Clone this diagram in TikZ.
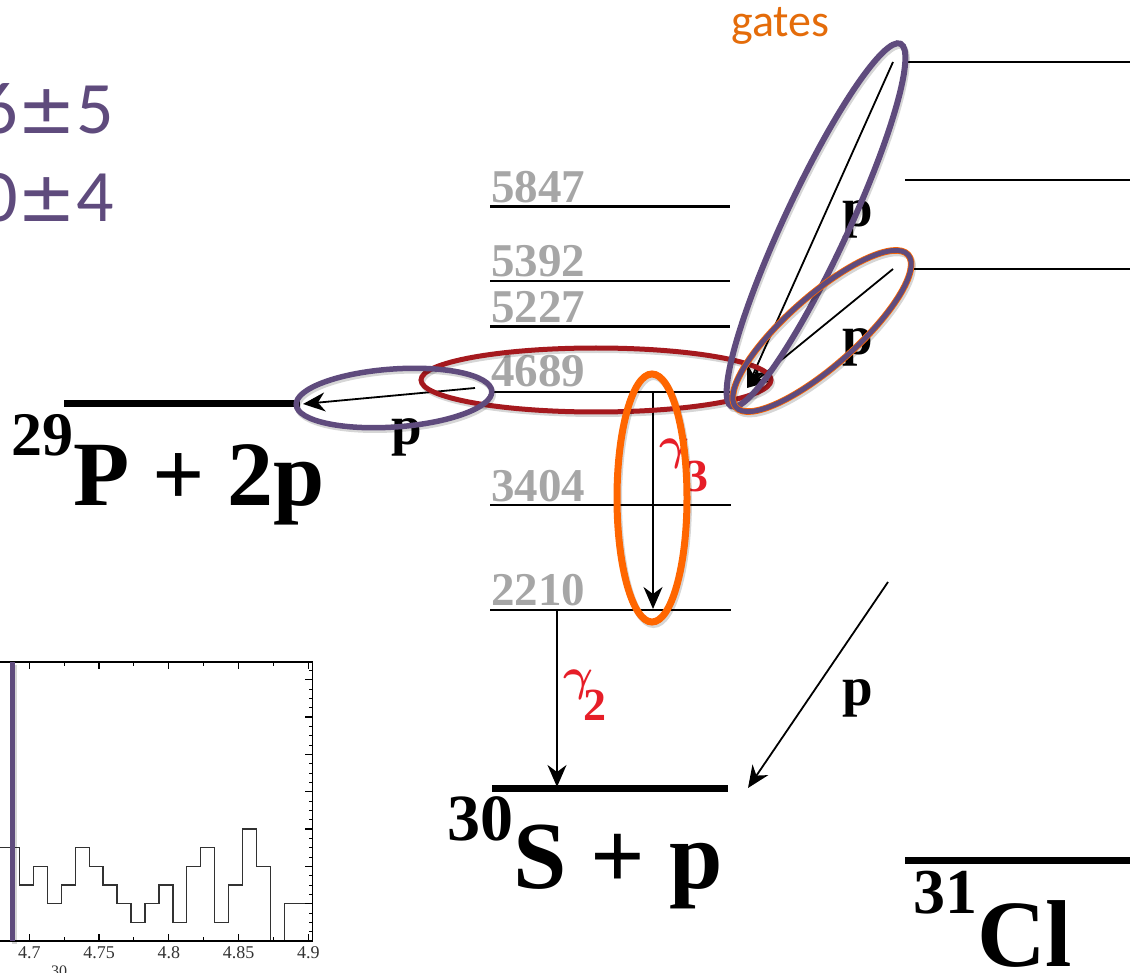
\documentclass[tikz,border=0pt]{standalone}
\usepackage{graphicx}
\usepackage{fontspec}
\setmainfont{Liberation Serif}
\newfontfamily\carlito{Carlito}
\newfontfamily\djsans{DejaVu Sans}
\usetikzlibrary{arrows.meta,shapes.geometric}
\definecolor{purp}{RGB}{95,75,125}
\definecolor{dred}{RGB}{165,25,30}
\definecolor{orng}{RGB}{255,102,0}
\definecolor{gatesc}{RGB}{228,108,10}
\definecolor{gred}{RGB}{230,30,40}
\definecolor{labgray}{RGB}{166,166,166}
\definecolor{histc}{RGB}{50,50,50}
\newcommand{\bgam}{\scalebox{4.6}{\mbox{\fontsize{10}{10}\selectfont\boldmath$\gamma$}}}
\begin{document}
\begin{tikzpicture}[x=1pt,y=-1pt,
  lab/.style={text=labgray, font=\bfseries\fontsize{47}{47}\selectfont, anchor=base west, inner sep=0pt},
  plab/.style={font=\bfseries\fontsize{55}{55}\selectfont, anchor=base west, inner sep=0pt},
  thin level/.style={line width=2pt},
  mid level/.style={line width=3pt},
  gs level/.style={line width=7pt},
  parr/.style={-{Stealth[length=22pt,width=19pt,inset=7pt]}, line width=1.8pt},
  oval/.style={ellipse, inner sep=0pt},
  shad/.style={preaction={draw=black, draw opacity=0.16, line width=#1, transform canvas={shift={(1.5pt,-2.5pt)}}}},
  ticklab/.style={font=\fontsize{18}{18}\selectfont, text=histc, inner sep=0pt, anchor=center},
  valtxt/.style={text=purp, font=\carlito\fontsize{74}{74}\selectfont, anchor=base east, inner sep=0pt}
]
\useasboundingbox (0,0) rectangle (1130,973);
\clip (0,0) rectangle (1130,973);

% ---------- histogram ----------
\draw[line width=1.3pt, histc] (0,847.7) -- (19.4,847.7) -- (19.4,885.0) -- (33.35,885.0) -- (33.35,866.3) -- (47.3,866.3) -- (47.3,903.7) -- (61.25,903.7) -- (61.25,885.0) -- (75.2,885.0) -- (75.2,847.7) -- (89.15,847.7) -- (89.15,866.3) -- (103.1,866.3) -- (103.1,885.0) -- (117.05,885.0) -- (117.05,903.7) -- (131.0,903.7) -- (131.0,922.3) -- (144.95,922.3) -- (144.95,903.7) -- (158.9,903.7) -- (158.9,885.0) -- (172.85,885.0) -- (172.85,922.3) -- (186.8,922.3) -- (186.8,866.3) -- (200.75,866.3) -- (200.75,847.7) -- (214.7,847.7) -- (214.7,922.3) -- (228.65,922.3) -- (228.65,885.0) -- (242.6,885.0) -- (242.6,829.0) -- (256.55,829.0) -- (256.55,866.3) -- (270.5,866.3) -- (270.5,941) -- (284.45,941) -- (284.45,903.7) -- (312.35,903.7);
\draw[line width=1.5pt] (0,662) -- (312.35,662) -- (312.35,941) -- (0,941);
\foreach \x in {29.3,99.05,168.8,238.55,308.3}{
  \draw[line width=1.2pt] (\x,662) -- (\x,669);
  \draw[line width=1.2pt] (\x,941) -- (\x,934);
}
\foreach \x in {64.2,133.9,203.7,273.4}{
  \draw[line width=1pt] (\x,662) -- (\x,666);
  \draw[line width=1pt] (\x,941) -- (\x,937);
}
\foreach \y in {903.7,866.3,829.0,791.7,754.3,717.0,679.7}{
  \draw[line width=1.2pt] (312.35,\y) -- (305.35,\y);
}
\foreach \y in {931.7,922.3,913.0,894.3,885.0,875.7,857.0,847.7,838.3,819.7,810.3,801.0,782.3,773.0,763.7,745.0,735.7,726.3,707.7,698.3,689.0,670.3}{
  \draw[line width=0.8pt] (312.35,\y) -- (309.35,\y);
}
\node[ticklab] (t47) at (29.3,953) {4.7};
\node[ticklab] (t475) at (99.05,953) {4.75};
\node[ticklab] (t48) at (168.8,953) {4.8};
\node[ticklab] (t485) at (238.55,953) {4.85};
\node[ticklab] (t49) at (308.3,953) {4.9};
\node[font=\fontsize{16}{16}\selectfont, text=histc, inner sep=0pt, anchor=north west] (ax30) at (51,966) {30};
\draw[purp, line width=5pt, shad=5pt] (12.7,662) -- (12.7,941);

% ---------- top-left values ----------
\node[valtxt] (v1) at (114,134) {6{\djsans\fontsize{70}{70}\selectfont ±}5};
\node[valtxt] (v2) at (114,222) {0{\djsans\fontsize{70}{70}\selectfont ±}4};

% ---------- gates ----------
\node[text=gatesc, font=\carlito\fontsize{46}{46}\selectfont, anchor=base west, inner sep=0pt] (gates) at (731,37) {gates};

% ---------- levels of 30S ----------
\coordinate (a5847) at (490,207); \coordinate (b5847) at (730,207);
\coordinate (a5392) at (490,281); \coordinate (b5392) at (730,281);
\coordinate (a5227) at (490,327); \coordinate (b5227) at (730,327);
\coordinate (a4689) at (490,392); \coordinate (b4689) at (730,392);
\coordinate (a3404) at (490,505); \coordinate (b3404) at (731,505);
\coordinate (a2210) at (490,610); \coordinate (b2210) at (731,610);
\coordinate (aS30) at (492,788); \coordinate (bS30) at (728,788);
\draw[mid level] (a5847) -- (b5847);
\draw[thin level] (a5392) -- (b5392);
\draw[mid level] (a5227) -- (b5227);
\draw[thin level] (a4689) -- (b4689);
\draw[thin level] (a3404) -- (b3404);
\draw[thin level] (a2210) -- (b2210);
\draw[gs level] (aS30) -- (bS30);

\node[lab] (l5847) at (491,203) {5847};
\node[lab] (l5392) at (491,277) {5392};
\node[lab] (l5227) at (491,323) {5227};
\node[lab] (l4689) at (491,387) {4689};
\node[lab] (l3404) at (491,501) {3404};
\node[lab] (l2210) at (491,605) {2210};

% ---------- levels of 31Cl ----------
\coordinate (c1a) at (907,62);  \coordinate (c1b) at (1130,62);
\coordinate (c2a) at (905,180); \coordinate (c2b) at (1130,180);
\coordinate (c3a) at (912,269); \coordinate (c3b) at (1130,269);
\coordinate (cGa) at (905,860); \coordinate (cGb) at (1130,860);
\draw[line width=2.2pt] (c1a) -- (c1b);
\draw[line width=2.2pt] (c2a) -- (c2b);
\draw[line width=2.2pt] (c3a) -- (c3b);
\draw[gs level] (cGa) -- (cGb);

% ---------- 29P + 2p ----------
\coordinate (pa) at (64,404); \coordinate (pb) at (300,404);
\draw[gs level] (pa) -- (pb);

% ---------- nucleus labels ----------
\node[anchor=base west, inner sep=0pt, font=\bfseries] (P29) at (11,505)
  {\fontsize{62}{62}\selectfont\raisebox{50pt}{29}\fontsize{92}{92}\selectfont P + 2p};
\node[anchor=base west, inner sep=0pt, font=\bfseries] (S30) at (447,888)
  {\fontsize{66}{66}\selectfont\raisebox{48pt}{30}\fontsize{96}{96}\selectfont S + p};
\node[anchor=base west, inner sep=0pt, font=\bfseries] (Cl31) at (913,966)
  {\fontsize{64}{64}\selectfont\raisebox{53pt}{31}\fontsize{95}{95}\selectfont Cl};

% ---------- transitions ----------
\coordinate (g3s) at (653,393); \coordinate (g3e) at (653,609);
\coordinate (g2s) at (557,611); \coordinate (g2e) at (557,787);
\coordinate (pLs) at (893,62);  \coordinate (pSs) at (893,269);
\coordinate (pTip) at (747,388);
\coordinate (p2s) at (475,388); \coordinate (p2e) at (303,404);
\coordinate (p3s) at (888,582); \coordinate (p3e) at (748,788);
\draw[parr] (g3s) -- (g3e);
\draw[parr] (g2s) -- (g2e);
\draw[parr] (pLs) -- (pTip);
\draw[parr] (pSs) -- (pTip);
\draw[parr] (p2s) -- (p2e);
\draw[parr] (p3s) -- (p3e);

\node[anchor=base west, inner sep=0pt, text=gred, font=\bfseries] (gam3) at (659,460)
  {\bgam\kern-4pt\fontsize{46}{46}\selectfont\raisebox{-32pt}{3}};
\node[anchor=base west, inner sep=0pt, text=gred, font=\bfseries] (gam2) at (563,690)
  {\bgam\kern-10pt\fontsize{46}{46}\selectfont\raisebox{-30pt}{2}};

\node[plab] (pl1) at (842,227) {p};
\node[plab] (pl2) at (842,355) {p};
\node[plab] (pl3) at (391,444) {p};
\node[plab] (pl4) at (842,705) {p};

% ---------- gates ----------
\node[oval, draw=dred, line width=5pt, shad=5pt, minimum width=350pt, minimum height=64pt] (eRed) at (596,380) {};
\node[oval, draw=purp, line width=5.5pt, shad=5.5pt, minimum width=196pt, minimum height=58pt, rotate=4] (eLeft) at (394,398) {};
\node[oval, draw=orng, line width=7pt, shad=7pt, minimum width=70pt, minimum height=248pt] (eOr) at (652,498) {};
\node[oval, draw=purp, line width=6pt, shad=6pt, minimum width=400pt, minimum height=64pt, rotate=65] (eLong) at (816,225) {};
\node[oval, draw=orng, double=purp, double distance=5pt, line width=0.8pt, shad=6.6pt, minimum width=230pt, minimum height=70pt, rotate=41.5] (eShort) at (822,331) {};
\end{tikzpicture}
\end{document}
